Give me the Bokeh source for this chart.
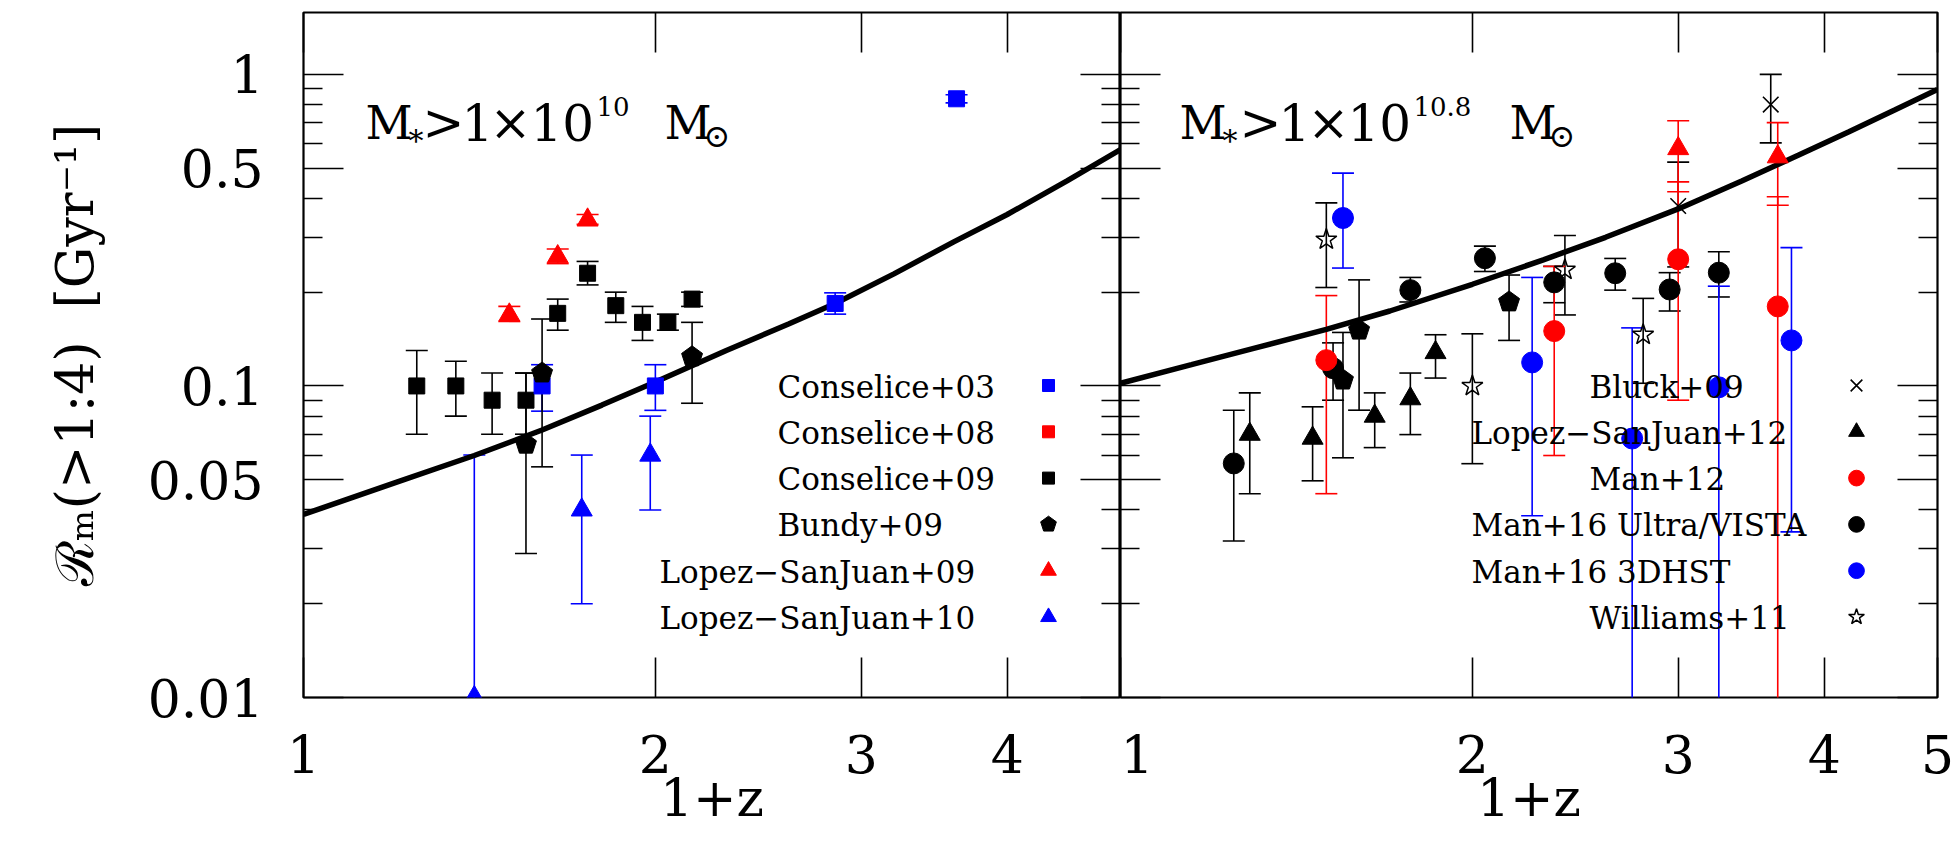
import numpy as np
from bokeh.plotting import figure
from bokeh.layouts import row
from bokeh.models import ColumnDataSource, Whisker, TeeHead, LogAxis, FixedTicker, Range1d
from bokeh.core.properties import value
from bokeh.embed import file_html
from bokeh.resources import INLINE

# ---------------------------------------------------------------------------
# Major-merger rate R_m(>1:4) [Gyr^-1] against 1+z.  Each series: x, y, upper, lower
# ---------------------------------------------------------------------------

# Left panel: M* > 1e10 Msun
con03_x = [1.6, 2.0, 2.85, 3.62]
con03_y = [0.100, 0.100, 0.184, 0.835]
con03_hi = [0.117, 0.117, 0.199, 0.860]
con03_lo = [0.083, 0.0835, 0.170, 0.810]

con09_x = [1.25, 1.35, 1.45, 1.55, 1.65, 1.75, 1.85, 1.95, 2.05, 2.15]
con09_y = [0.100, 0.100, 0.090, 0.090, 0.171, 0.230, 0.181, 0.160, 0.160, 0.190]
con09_hi = [0.130, 0.120, 0.110, 0.110, 0.190, 0.251, 0.200, 0.180, 0.170, 0.200]
con09_lo = [0.070, 0.080, 0.070, 0.070, 0.151, 0.211, 0.160, 0.140, 0.151, 0.180]

bun09a_x = [1.55, 1.60, 2.15]
bun09a_y = [0.065, 0.110, 0.124]
bun09a_hi = [0.110, 0.164, 0.160]
bun09a_lo = [0.029, 0.055, 0.088]

lsj09a_x = [1.50, 1.65, 1.75]
lsj09a_y = [0.169, 0.260, 0.341]
lsj09a_hi = [0.180, 0.275, 0.355]
lsj09a_lo = [0.161, 0.247, 0.330]

lsj10_x = [1.40, 1.73, 1.98]
lsj10_y = [0.010, 0.040, 0.060]
lsj10_hi = [0.060, 0.060, 0.080]
lsj10_lo = [0.005, 0.020, 0.040]

model_a_x = [1.0, 1.2, 1.4, 1.6, 1.8, 2.0, 2.3, 2.6, 2.85, 3.2, 3.6, 4.0, 4.5, 5.0]
model_a_y = [0.0387, 0.049, 0.0598, 0.0722, 0.0868, 0.103, 0.130, 0.158, 0.184,
             0.229, 0.290, 0.355, 0.455, 0.574]

# Right panel: M* > 10^10.8 Msun
bluck_x = [3.0, 3.6]
bluck_y = [0.378, 0.800]
bluck_hi = [0.523, 1.000]
bluck_lo = [0.241, 0.603]

lsj12_x = [1.29, 1.46, 1.65, 1.77, 1.86]
lsj12_y = [0.070, 0.068, 0.080, 0.091, 0.128]
lsj12_hi = [0.095, 0.0857, 0.095, 0.110, 0.146]
lsj12_lo = [0.0451, 0.0496, 0.0634, 0.0698, 0.106]

lsj09b_x = [3.0, 3.65]
lsj09b_y = [0.578, 0.544]
lsj09b_hi = [0.710, 0.700]
lsj09b_lo = [0.420, 0.380]

man12_x = [1.50, 2.35, 3.0, 3.65]
man12_y = [0.121, 0.150, 0.255, 0.180]
man12_hi = [0.195, 0.242, 0.452, 0.405]
man12_lo = [0.0451, 0.0598, 0.090, 0.005]

man16u_x = [1.25, 1.52, 1.77, 2.05, 2.35, 2.65, 2.95, 3.25]
man16u_y = [0.0564, 0.114, 0.203, 0.257, 0.215, 0.230, 0.204, 0.231]
man16u_hi = [0.0836, 0.1375, 0.223, 0.281, 0.242, 0.2566, 0.231, 0.2695]
man16u_lo = [0.0318, 0.090, 0.186, 0.233, 0.185, 0.203, 0.174, 0.193]

man16d_x = [1.55, 2.25, 2.74, 3.25, 3.75]
man16d_y = [0.346, 0.119, 0.0678, 0.099, 0.140]
man16d_hi = [0.482, 0.223, 0.1536, 0.209, 0.278]
man16d_lo = [0.239, 0.0383, 0.005, 0.005, 0.034]

bun09b_x = [1.55, 1.60, 2.15]
bun09b_y = [0.1044, 0.151, 0.186]
bun09b_hi = [0.1485, 0.219, 0.227]
bun09b_lo = [0.0588, 0.0836, 0.140]

wil11_x = [1.50, 2.00, 2.40, 2.80]
wil11_y = [0.295, 0.100, 0.236, 0.146]
wil11_hi = [0.387, 0.147, 0.304, 0.191]
wil11_lo = [0.207, 0.0563, 0.169, 0.102]

model_b_x = [1.0, 1.15, 1.3, 1.5, 1.7, 2.0, 2.3, 2.6, 3.0, 3.4, 3.8, 4.2, 4.6, 5.0]
model_b_y = [0.102, 0.117, 0.132, 0.152, 0.174, 0.212, 0.254, 0.300, 0.370,
             0.455, 0.550, 0.655, 0.770, 0.895]

# Axis ticks and labels
x_ticks = [1, 2, 3, 4, 5]
x_tick_labels = ["1", "2", "3", "4", "5"]
y_ticks = [0.01, 0.05, 0.1, 0.5, 1.0]
y_tick_labels = ["0.01", "0.05", "0.1", "0.5", "1"]
y_minor = [0.02, 0.03, 0.04, 0.06, 0.07, 0.08, 0.09,
           0.2, 0.3, 0.4, 0.6, 0.7, 0.8, 0.9]

key_a_labels = ["Conselice+03", "Conselice+08", "Conselice+09", "Bundy+09",
                "Lopez\u2212SanJuan+09", "Lopez\u2212SanJuan+10"]
key_b_labels = ["Bluck+09", "Lopez\u2212SanJuan+12", "Man+12",
                "Man+16 Ultra/VISTA", "Man+16 3DHST", "Williams+11"]

# ---------------------------------------------------------------------------
# Layout / style
# ---------------------------------------------------------------------------
FONT = "DejaVu Serif"
FRAME_W, FRAME_H = 817, 685
X_MIN, X_MAX = 1.0, 5.0
Y_MIN, Y_MAX = 0.01, 1.58
LX = np.log10(X_MAX / X_MIN) / FRAME_W   # decades per pixel
LY = np.log10(Y_MAX / Y_MIN) / FRAME_H

BLUE, RED, BLACK = "#0000ff", "#ff0000", "#000000"


def fx(px):
    """frame pixel (from left) -> data x"""
    return X_MIN * 10 ** (px * LX)


def fy(py):
    """frame pixel (from top) -> data y"""
    return Y_MAX / 10 ** (py * LY)


def make_panel(border_left, border_right, labelled_x_ticks):
    p = figure(x_axis_type="log", y_axis_type="log",
               x_range=Range1d(X_MIN, X_MAX), y_range=Range1d(Y_MIN, Y_MAX),
               frame_width=FRAME_W, frame_height=FRAME_H,
               min_border_left=border_left, min_border_right=border_right,
               min_border_top=12, min_border_bottom=151,
               output_backend="svg", toolbar_location=None)
    p.grid.visible = False
    p.outline_line_color = BLACK
    p.outline_line_width = 2.2
    p.background_fill_color = "white"
    p.border_fill_color = "white"
    p.add_layout(LogAxis(), "above")
    p.add_layout(LogAxis(), "right")
    for ax in p.xaxis:
        ax.ticker = FixedTicker(ticks=x_ticks, minor_ticks=[])
    for ax in p.yaxis:
        ax.ticker = FixedTicker(ticks=y_ticks, minor_ticks=y_minor)
    for ax in p.axis:
        ax.axis_line_color = None
        ax.major_tick_in = 40
        ax.major_tick_out = 0
        ax.minor_tick_in = 19
        ax.minor_tick_out = 0
        ax.major_tick_line_width = 1.6
        ax.minor_tick_line_width = 1.6
        ax.major_tick_line_color = BLACK
        ax.minor_tick_line_color = BLACK
        ax.major_label_text_font = FONT
        # unlabelled sides: no tick text at all
        ax.major_label_text_color = None
        ax.major_label_text_font_size = "1px"
        ax.major_label_standoff = 0
    bx = p.below[0]
    bx.ticker = FixedTicker(ticks=x_ticks[:labelled_x_ticks], minor_ticks=[])
    bx.major_label_overrides = {t: s for t, s in zip(x_ticks, x_tick_labels)}
    bx.major_label_text_color = BLACK
    bx.major_label_text_font_size = "52px"
    bx.major_label_standoff = 37
    bx.axis_label = "1+z"
    bx.axis_label_text_font = FONT
    bx.axis_label_text_color = BLACK
    bx.axis_label_text_font_style = "normal"
    bx.axis_label_text_font_size = "52px"
    bx.axis_label_standoff = -8
    return p


def error_bars(p, xs, ys_hi, ys_lo, color):
    src = ColumnDataSource(dict(x=xs, hi=ys_hi, lo=ys_lo))
    p.add_layout(Whisker(base="x", upper="hi", lower="lo", source=src,
                         dimension="height", line_color=color, line_width=1.6,
                         upper_head=TeeHead(size=22, line_color=color, line_width=1.6),
                         lower_head=TeeHead(size=22, line_color=color, line_width=1.6)))


def pentagons(p, xs, ys, r, color):
    pxs, pys = [], []
    for xc, yc in zip(xs, ys):
        ang = np.pi / 2 + 2 * np.pi * np.arange(5) / 5
        pxs.append(list(xc * 10 ** (r * np.cos(ang) * LX)))
        pys.append(list(yc * 10 ** (r * np.sin(ang) * LY)))
    p.patches(pxs, pys, fill_color=color, line_color=color, line_width=1)


def marker(p, kind, xs, ys, color, scale=1.0):
    if kind == "pentagon":
        pentagons(p, xs, ys, 11 * scale, color)
    elif kind == "star":
        p.scatter(xs, ys, marker="star", size=22 * scale, fill_color=None,
                  line_color=color, line_width=1.5)
    elif kind == "x":
        p.scatter(xs, ys, marker="x", size=22 * scale, line_color=color, line_width=1.6)
    else:
        size = {"square": 16, "circle": 21, "triangle": 21}[kind] * scale
        p.scatter(xs, ys, marker=kind, size=size, fill_color=color, line_color=color)


def series(p, xs, ys, hi, lo, kind, color):
    error_bars(p, xs, hi, lo, color)
    marker(p, kind, xs, ys, color)


def key(p, labels, styles, indents, x_marker, x_text, x_text_indent, row0, row_dy):
    for i, (lab, (kind, color), ind) in enumerate(zip(labels, styles, indents)):
        yy = row0 + i * row_dy
        p.text(x=[fx(x_text_indent if ind else x_text)], y=[fy(yy)], text=[lab],
               text_font=value(FONT), text_font_size="31px", text_color=BLACK,
               text_align="left", text_baseline="alphabetic")
        marker(p, kind, [fx(x_marker)], [fy(yy - 1)], color, scale=0.75)


def mass_label(p, pieces):
    for txt, dx, dy, size in pieces:
        p.text(x=[fx(dx)], y=[fy(dy)], text=[txt], text_font=value(FONT),
               text_font_size=f"{size}px", text_color=BLACK,
               text_align="left", text_baseline="alphabetic")


# ---------------------------------------------------------------------------
# Left panel
# ---------------------------------------------------------------------------
pa = make_panel(303, 0, labelled_x_ticks=4)
ly = pa.left[0]
ly.major_label_overrides = {t: s for t, s in zip(y_ticks, y_tick_labels)}
ly.major_label_text_color = BLACK
ly.major_label_text_font_size = "52px"
ly.major_label_standoff = 40
ly.axis_label = "\u211b\u2098(>1:4) \u00a0[Gyr\u207b\u00b9]"
ly.axis_label_text_font = FONT
ly.axis_label_text_color = BLACK
ly.axis_label_text_font_style = "normal"
ly.axis_label_text_font_size = "52px"
ly.axis_label_standoff = 40

pa.line(model_a_x, model_a_y, line_width=5.5, line_color=BLACK)
series(pa, con09_x, con09_y, con09_hi, con09_lo, "square", BLACK)
series(pa, con03_x, con03_y, con03_hi, con03_lo, "square", BLUE)
series(pa, bun09a_x, bun09a_y, bun09a_hi, bun09a_lo, "pentagon", BLACK)
series(pa, lsj09a_x, lsj09a_y, lsj09a_hi, lsj09a_lo, "triangle", RED)
series(pa, lsj10_x, lsj10_y, lsj10_hi, lsj10_lo, "triangle", BLUE)

key(pa, key_a_labels,
    [("square", BLUE), ("square", RED), ("square", BLACK),
     ("pentagon", BLACK), ("triangle", RED), ("triangle", BLUE)],
    [True, True, True, True, False, False],
    x_marker=745, x_text=356, x_text_indent=474, row0=374, row_dy=46.3)

mass_label(pa, [("M", 62, 110, 46), ("*", 105, 128, 30),
                (">", 119, 110, 50), ("1", 158, 110, 50),
                ("\u00d7", 186, 110, 50), ("10", 227, 110, 50),
                ("10", 293, 94, 26), ("M", 361, 110, 46),
                ("\u2299", 400, 123, 32)])

# ---------------------------------------------------------------------------
# Right panel
# ---------------------------------------------------------------------------
pb = make_panel(0, 19, labelled_x_ticks=5)
pb.line(model_b_x, model_b_y, line_width=5.5, line_color=BLACK)
series(pb, lsj12_x, lsj12_y, lsj12_hi, lsj12_lo, "triangle", BLACK)
series(pb, wil11_x, wil11_y, wil11_hi, wil11_lo, "star", BLACK)
series(pb, bun09b_x, bun09b_y, bun09b_hi, bun09b_lo, "pentagon", BLACK)
series(pb, man16u_x, man16u_y, man16u_hi, man16u_lo, "circle", BLACK)
series(pb, bluck_x, bluck_y, bluck_hi, bluck_lo, "x", BLACK)
series(pb, man12_x, man12_y, man12_hi, man12_lo, "circle", RED)
series(pb, lsj09b_x, lsj09b_y, lsj09b_hi, lsj09b_lo, "triangle", RED)
series(pb, man16d_x, man16d_y, man16d_hi, man16d_lo, "circle", BLUE)

key(pb, key_b_labels,
    [("x", BLACK), ("triangle", BLACK), ("circle", RED),
     ("circle", BLACK), ("circle", BLUE), ("star", BLACK)],
    [True, False, True, False, False, True],
    x_marker=736, x_text=351, x_text_indent=469, row0=374, row_dy=46.3)

mass_label(pb, [("M", 59, 110, 46), ("*", 102, 128, 30),
                (">", 119, 110, 50), ("1", 158, 110, 50),
                ("\u00d7", 187, 110, 50), ("10", 227, 110, 50),
                ("10.8", 293, 94, 26), ("M", 389, 110, 46),
                ("\u2299", 428, 123, 32)])

layout = row(pa, pb)
open("out.html", "w").write(file_html(layout, INLINE))
